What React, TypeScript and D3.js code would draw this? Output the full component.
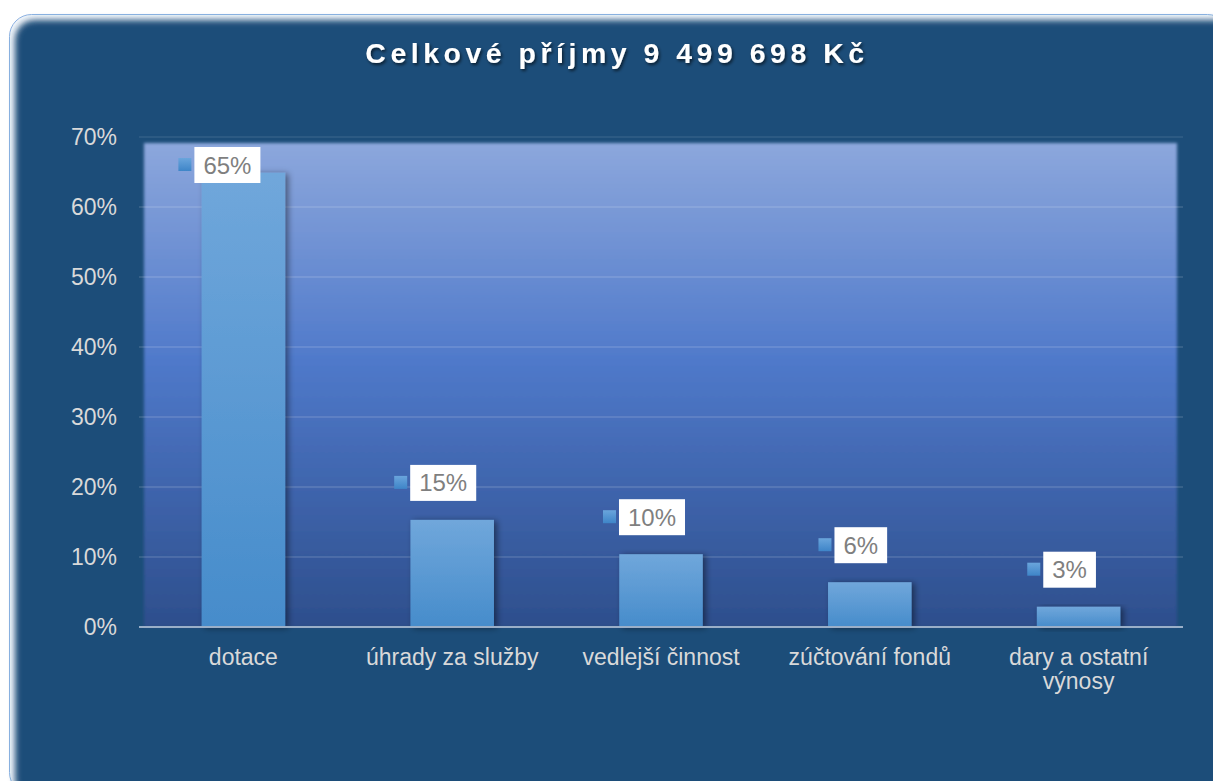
import React from "react";
import * as d3 from "d3";

const TITLE = "Celkové příjmy 9 499 698 Kč";
const categories: string[][] = [
  ["dotace"],
  ["úhrady za služby"],
  ["vedlejší činnost"],
  ["zúčtování fondů"],
  ["dary a ostatní", "výnosy"],
];
const values: number[] = [64.9, 15.3, 10.4, 6.4, 2.9];
const labels: string[] = ["65%", "15%", "10%", "6%", "3%"];
const yTicks: number[] = [0, 10, 20, 30, 40, 50, 60, 70];

const W = 1213;
const H = 781;
const FONT = "Arial, 'Liberation Sans', sans-serif";

function textWidth(s: string, size: number) {
  let w = 0;
  for (const c of s) w += c === "%" ? 0.889 : 0.556;
  return w * size;
}

export default function App() {
  const left = 139;
  const right = 1183;
  const x = d3
    .scaleBand<number>()
    .domain(values.map((_, i) => i))
    .range([left, right])
    .paddingInner(0.6)
    .paddingOuter(0.3);
  const y = d3.scaleLinear().domain([0, 70]).range([627, 137]);
  const bw = x.bandwidth();

  return (
    <svg
      width={W}
      height={H}
      style={{ position: "absolute", left: 0, top: 0, display: "block" }}
      fontFamily={FONT}
    >
      <defs>
        <linearGradient id="plotGrad" x1="0" y1="0" x2="0" y2="1">
          <stop offset="0" stopColor="#8CA7DC" />
          <stop offset="0.45" stopColor="#4F79CA" />
          <stop offset="1" stopColor="#2D4E8C" />
        </linearGradient>
        <linearGradient id="barGrad" x1="0" y1="0" x2="0" y2="1">
          <stop offset="0" stopColor="#70A7DB" />
          <stop offset="1" stopColor="#468CCB" />
        </linearGradient>
        <linearGradient id="keyGrad" x1="0" y1="0" x2="0" y2="1">
          <stop offset="0" stopColor="#6AA5DC" />
          <stop offset="1" stopColor="#3E85C8" />
        </linearGradient>
        <filter id="soft" x="-5%" y="-5%" width="110%" height="110%">
          <feGaussianBlur stdDeviation="1.5" />
        </filter>
        <filter id="innerSoft" x="-5%" y="-5%" width="110%" height="110%">
          <feGaussianBlur stdDeviation="3" />
        </filter>
        <filter id="barShadow" x="-30%" y="-10%" width="160%" height="130%">
          <feDropShadow dx="3" dy="1" stdDeviation="3" floodColor="#000" floodOpacity="0.45" />
        </filter>
        <filter id="titleShadow" x="-10%" y="-50%" width="120%" height="200%">
          <feDropShadow dx="1.5" dy="2" stdDeviation="1.5" floodColor="#000" floodOpacity="0.6" />
        </filter>
      </defs>

      {/* outer frame */}
      <rect x={9.5} y={14.5} width={1220} height={780} rx={22} fill="#F4F7FC" stroke="#8EB4E3" strokeWidth={1} />
      <rect x={15} y={20} width={1220} height={780} rx={20} fill="#1F4E79" filter="url(#innerSoft)" />

      {/* title */}
      <text
        x={617}
        y={63}
        textAnchor="middle"
        fontSize={28.5}
        fontWeight="bold"
        letterSpacing={4.5}
        fill="#FFFFFF"
        filter="url(#titleShadow)"
      >
        {TITLE}
      </text>

      {/* plot area */}
      <rect x={144} y={143} width={1033} height={484} fill="url(#plotGrad)" filter="url(#soft)" />

      {/* gridlines */}
      {yTicks
        .filter((t) => t > 0)
        .map((t) => (
          <line
            key={t}
            x1={left}
            x2={right}
            y1={y(t)}
            y2={y(t)}
            stroke="#FFFFFF"
            strokeOpacity={t === 70 ? 0.1 : 0.16}
            strokeWidth={1.5}
          />
        ))}

      {/* bars */}
      {values.map((v, i) => (
        <rect
          key={i}
          x={x(i)!}
          y={y(v)}
          width={bw}
          height={y(0) - y(v)}
          fill="url(#barGrad)"
          filter="url(#barShadow)"
        />
      ))}

      {/* axis */}
      <line x1={left} x2={right} y1={y(0)} y2={y(0)} stroke="#9AAFC8" strokeWidth={2} />

      {/* y labels */}
      {yTicks.map((t) => (
        <text key={t} x={117} y={y(t) + 8} textAnchor="end" fontSize={23} fill="#D9D9D9">
          {t}%
        </text>
      ))}

      {/* x labels */}
      {categories.map((lines, i) => (
        <text key={i} textAnchor="middle" fontSize={23} fill="#D9D9D9">
          {lines.map((l, j) => (
            <tspan key={j} x={x(i)! + bw / 2} y={665 + j * 24}>
              {l}
            </tspan>
          ))}
        </text>
      ))}

      {/* data labels */}
      {values.map((v, i) => {
        const fs = 24;
        const tw = textWidth(labels[i], fs);
        const boxW = tw + 18;
        const boxH = 36;
        let cy = y(v) - 37;
        let shift = -9;
        if (cy - boxH / 2 < 147) {
          cy = 147 + boxH / 2;
          shift = -16;
        }
        const cx = x(i)! + bw / 2 + shift;
        const bx = cx - boxW / 2;
        return (
          <g key={i}>
            <rect x={bx - 16} y={cy - 7} width={13} height={13} fill="url(#keyGrad)" />
            <rect x={bx} y={cy - boxH / 2} width={boxW} height={boxH} fill="#FFFFFF" />
            <text x={cx} y={cy + 8.5} textAnchor="middle" fontSize={fs} fill="#7F7F7F">
              {labels[i]}
            </text>
          </g>
        );
      })}
    </svg>
  );
}
